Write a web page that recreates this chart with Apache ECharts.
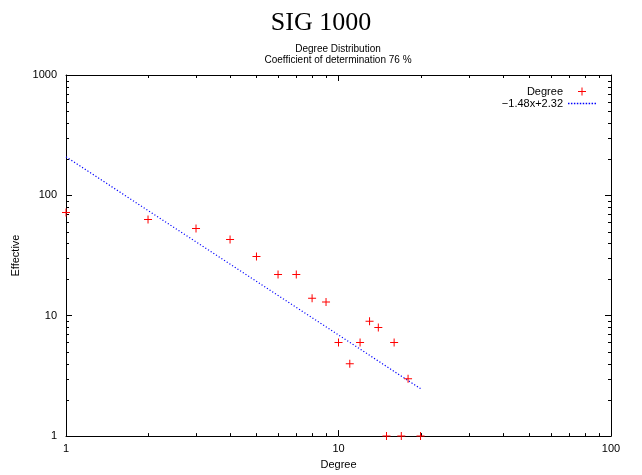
<!DOCTYPE html>
<html>
<head>
<meta charset="utf-8">
<script src="https://cdn.jsdelivr.net/npm/echarts@6/dist/echarts.min.js"></script>
<style>html,body{margin:0;padding:0;background:#fff}#c{width:642px;height:475px}</style>
</head>
<body>
<div id="c"></div>
<script>
// Data
const degree = [1, 2, 3, 4, 5, 6, 7, 8, 9, 10, 11, 12, 13, 14, 15, 16, 17, 18, 20];
const effective = [72, 63, 53, 43, 31, 22, 22, 14, 13, 6, 4, 6, 9, 8, 1, 6, 1, 3, 1];
const fitX = [1, 20];
const fitY = [208.9, 2.48];
const xRange = [1, 100];
const yRange = [1, 1000];
const minorX = [2, 3, 4, 5, 6, 7, 8, 9, 20, 30, 40, 50, 60, 70, 80, 90];
const minorY = [2, 3, 4, 5, 6, 7, 8, 9, 20, 30, 40, 50, 60, 70, 80, 90, 200, 300, 400, 500, 600, 700, 800, 900];

const FONT = 'Liberation Sans';
const plus = 'path://M0,3.5H8V4.5H0Z M3.5,0H4.5V8H3.5Z';
const dots = 'path://M0,0H1.5V1.5H0Z M3,0H4.5V1.5H3Z M6,0H7.5V1.5H6Z M9,0H10.5V1.5H9Z M12,0H13.5V1.5H12Z M15,0H16.5V1.5H15Z M18,0H19.5V1.5H18Z M21,0H22.5V1.5H21Z M24,0H25.5V1.5H24Z M27,0H28.5V1.5H27Z';

const chart = echarts.init(document.getElementById('c'), null, {renderer: 'canvas'});

function fmt(v) { return String(Math.round(v)); }

const axisCommon = {
  type: 'log', logBase: 10,
  axisLine: {show: true, lineStyle: {color: '#000', width: 1}},
  axisTick: {show: true, inside: true, length: 6, lineStyle: {color: '#000', width: 1}},
  splitLine: {show: false},
  axisLabel: {color: '#000', fontFamily: FONT, fontSize: 11, formatter: fmt}
};

const TICK = 3;
function minorXRender(params, api) {
  const v = api.value(0);
  const p0 = api.coord([v, yRange[0]]);
  const p1 = api.coord([v, yRange[1]]);
  const px = Math.round(p0[0]) + 0.5;
  return {type: 'group', children: [
    {type: 'line', shape: {x1: px, y1: p0[1], x2: px, y2: p0[1] - TICK}, style: {stroke: '#000', lineWidth: 1}},
    {type: 'line', shape: {x1: px, y1: p1[1], x2: px, y2: p1[1] + TICK}, style: {stroke: '#000', lineWidth: 1}}
  ]};
}
function minorYRender(params, api) {
  const v = api.value(1);
  const p0 = api.coord([xRange[0], v]);
  const p1 = api.coord([xRange[1], v]);
  const py = Math.round(p0[1]) + 0.5;
  return {type: 'group', children: [
    {type: 'line', shape: {x1: p0[0], y1: py, x2: p0[0] + TICK, y2: py}, style: {stroke: '#000', lineWidth: 1}},
    {type: 'line', shape: {x1: p1[0], y1: py, x2: p1[0] - TICK, y2: py}, style: {stroke: '#000', lineWidth: 1}}
  ]};
}

chart.setOption({
  animation: false,
  title: [
    {text: 'SIG 1000', left: 'center', top: 10, padding: 0,
     textStyle: {fontFamily: 'Liberation Serif', fontSize: 26, fontWeight: 'normal', color: '#000'}},
    {text: 'Degree Distribution\nCoefficient of determination 76 %', left: 338, textAlign: 'center', top: 44, padding: 0,
     textStyle: {fontFamily: FONT, fontSize: 10, fontWeight: 'normal', color: '#000', lineHeight: 11}}
  ],
  legend: {
    orient: 'vertical', right: 41, top: 81, align: 'right', itemGap: 1,
    itemWidth: 28, itemHeight: 8,
    textStyle: {fontFamily: FONT, fontSize: 11, color: '#000', lineHeight: 10},
    data: [
      {name: 'Degree', icon: plus, itemStyle: {color: '#ff0000'}},
      {name: '\u22121.48x+2.32', icon: dots, itemStyle: {color: '#0000ff'}}
    ]
  },
  grid: {left: 66, top: 75, right: 31, bottom: 38, containLabel: false},
  xAxis: [
    Object.assign({}, axisCommon, {position: 'bottom', min: xRange[0], max: xRange[1],
      name: 'Degree', nameLocation: 'middle', nameGap: 20,
      nameTextStyle: {fontFamily: FONT, fontSize: 11, color: '#000'},
      axisLabel: Object.assign({}, axisCommon.axisLabel, {margin: 7})}),
    Object.assign({}, axisCommon, {position: 'top', min: xRange[0], max: xRange[1], axisLabel: {show: false}})
  ],
  yAxis: [
    Object.assign({}, axisCommon, {position: 'left', min: yRange[0], max: yRange[1],
      name: 'Effective', nameLocation: 'middle', nameGap: 41, nameRotate: 90,
      nameTextStyle: {fontFamily: FONT, fontSize: 11, color: '#000'},
      axisLabel: Object.assign({}, axisCommon.axisLabel, {margin: 9})}),
    Object.assign({}, axisCommon, {position: 'right', min: yRange[0], max: yRange[1], axisLabel: {show: false}})
  ],
  series: [
    {type: 'custom', renderItem: minorXRender, data: minorX.map(v => [v, yRange[0]])},
    {type: 'custom', renderItem: minorYRender, data: minorY.map(v => [xRange[0], v])},
    {
      name: 'Degree', type: 'scatter', symbol: plus, symbolSize: 8, symbolKeepAspect: true,
      itemStyle: {color: '#ff0000', opacity: 1}, clip: false,
      data: degree.map((d, i) => [d, effective[i]]), z: 5
    },
    {
      name: '\u22121.48x+2.32', type: 'line', symbol: 'none', showSymbol: false,
      lineStyle: {color: '#0000ff', width: 1.2, type: [1.2, 2]},
      itemStyle: {color: '#0000ff'},
      data: fitX.map((x, i) => [x, fitY[i]]), z: 4
    }
  ]
});
</script>
</body>
</html>
